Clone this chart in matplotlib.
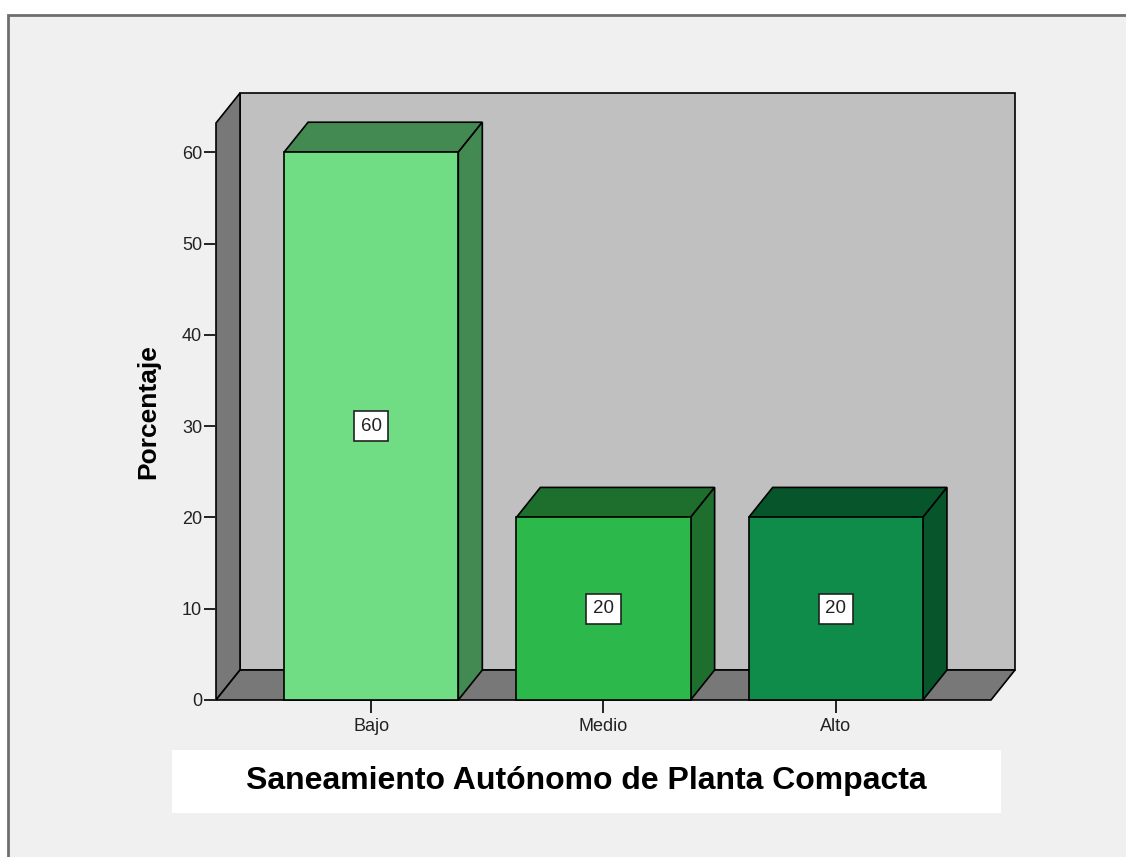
import matplotlib
matplotlib.use('Agg')
import matplotlib.pyplot as plt
from matplotlib.patches import Polygon, Rectangle

plt.rcParams['font.family'] = ['Liberation Sans', 'DejaVu Sans']

# data
categories = ['Bajo', 'Medio', 'Alto']
percentages = [60, 20, 20]
yticks = [0, 10, 20, 30, 40, 50, 60]
front_colors = ['#70DD84', '#2DB84B', '#0F8C49']
shade_colors = ['#428A52', '#1E6F2D', '#07552A']
title = 'Saneamiento Autónomo de Planta Compacta'
ylabel = 'Porcentaje'

# 3D look: depth offset in data units
bar_w = 0.75
dx = 0.1034
dy = 3.285
x0, x1 = -0.668, 2.668
ytop = 63.2
lw = 1.2

fig = plt.figure(figsize=(11.26, 8.57), dpi=100)
fig.patch.set_facecolor('white')

# outer frame (cut off on right/bottom like the reference)
frame = Rectangle((8 / 1126, -0.05), 1.2, (857 - 15) / 857 + 0.05,
                  transform=fig.transFigure, facecolor='#F0F0F0',
                  edgecolor='#6E6E6E', linewidth=2.0, zorder=-10)
fig.patches.append(frame)

# title box
tb = Rectangle((172 / 1126, (857 - 813) / 857), 829 / 1126, 63 / 857,
               transform=fig.transFigure, facecolor='white', edgecolor='none', zorder=-5)
fig.patches.append(tb)

ax = fig.add_axes([216 / 1126, (857 - 700) / 857, (1015 - 216) / 1126, (700 - 93) / 857])
ax.set_xlim(x0, x1 + dx)
ax.set_ylim(0, ytop + dy)
ax.patch.set_visible(False)
for s in ax.spines.values():
    s.set_visible(False)

def poly(pts, color, z):
    ax.add_patch(Polygon(pts, closed=True, facecolor=color, edgecolor='black',
                         linewidth=lw, clip_on=False, zorder=z))

# walls
poly([(x0 + dx, dy), (x1 + dx, dy), (x1 + dx, ytop + dy), (x0 + dx, ytop + dy)], '#C0C0C0', 1)
poly([(x0, 0), (x0 + dx, dy), (x0 + dx, ytop + dy), (x0, ytop)], '#787878', 1)
poly([(x0, 0), (x1, 0), (x1 + dx, dy), (x0 + dx, dy)], '#787878', 1)

# bars
for i, (v, fc, sc) in enumerate(zip(percentages, front_colors, shade_colors)):
    l, r = i - bar_w / 2, i + bar_w / 2
    poly([(l, v), (r, v), (r + dx, v + dy), (l + dx, v + dy)], sc, 2)
    poly([(r, 0), (r + dx, dy), (r + dx, v + dy), (r, v)], sc, 2)
    poly([(l, 0), (r, 0), (r, v), (l, v)], fc, 3)
    ax.text(i, v / 2, str(v), ha='center', va='center', fontsize=13.5, color='#222222', zorder=5,
            bbox=dict(boxstyle='square,pad=0.35', facecolor='white', edgecolor='#222222', linewidth=1.2))

ax.set_xticks(range(len(categories)))
ax.set_xticklabels(categories, fontsize=13, color='#222222')
ax.set_yticks(yticks)
ax.set_yticklabels([str(t) for t in yticks], fontsize=13, color='#222222')
ax.tick_params(axis='y', length=9, width=1.4, color='#222222', pad=1)
ax.tick_params(axis='x', length=9, width=1.4, color='#222222', pad=4)

ax.set_ylabel(ylabel, fontsize=19, fontweight='bold')
ax.yaxis.set_label_coords((160 - 216) / 799, (700 - 412) / 607)

fig.text(586.5 / 1126, (857 - 781) / 857, title, ha='center', va='center',
         fontsize=23, fontweight='bold', color='black')

fig.savefig('out.png', dpi=100, facecolor=fig.get_facecolor())
